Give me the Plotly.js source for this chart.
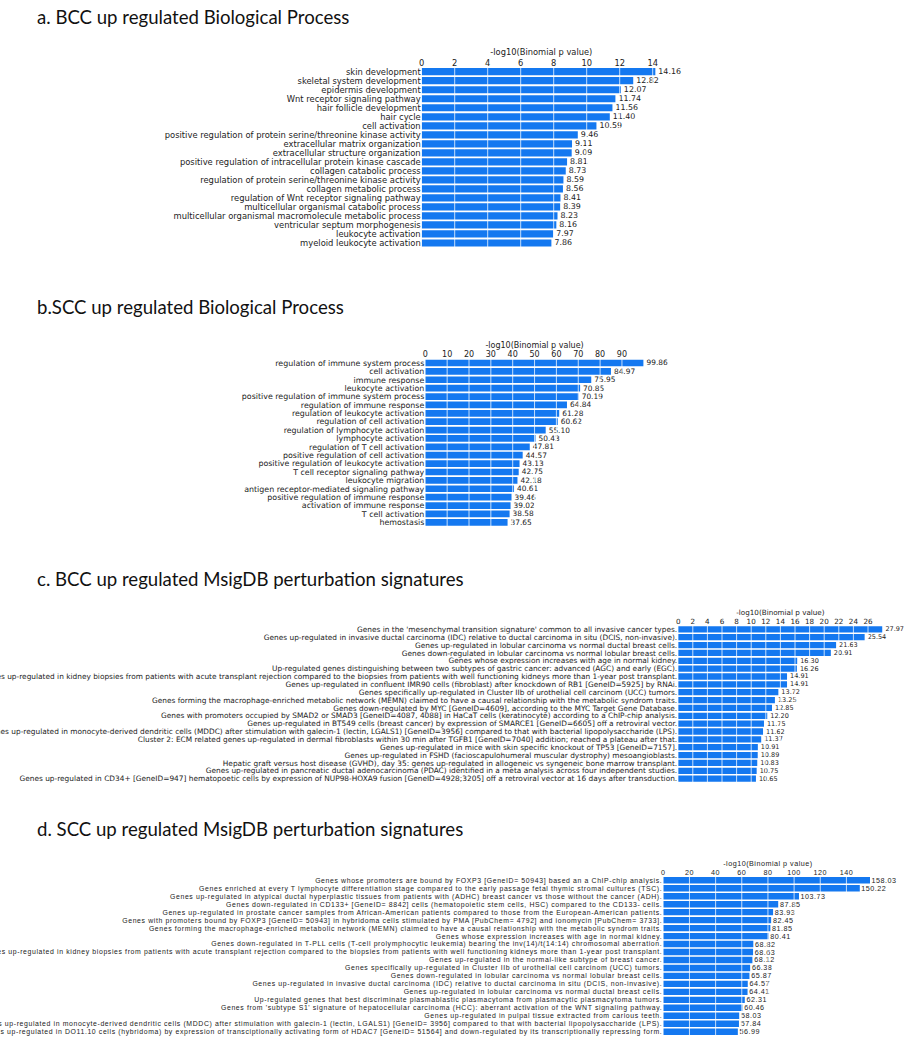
<!DOCTYPE html>
<html>
<head>
<meta charset="utf-8">
<script src="https://cdn.plot.ly/plotly-3.0.1.min.js"></script>
<style>
html,body{margin:0;padding:0;background:#fff;}
#chart{width:907px;height:1050px;}
.y4tick text {letter-spacing: 0.62px;}
.x4tick text {letter-spacing: 0.5px;}
.x4title {letter-spacing: 0.5px;}
.x4y4 .barlayer text {letter-spacing: 0.5px;}
</style>
</head>
<body>
<div id="chart"></div>
<script>
// ---------- DATA ----------
const titleA = "a. BCC up regulated Biological Process";
const titleB = "b.SCC up regulated Biological Process";
const titleC = "c. BCC up regulated MsigDB perturbation signatures";
const titleD = "d. SCC up regulated MsigDB perturbation signatures";
const axisTitle = "-log10(Binomial p value)";

const labelsA = [
  "skin development",
  "skeletal system development",
  "epidermis development",
  "Wnt receptor signaling pathway",
  "hair follicle development",
  "hair cycle",
  "cell activation",
  "positive regulation of protein serine/threonine kinase activity",
  "extracellular matrix organization",
  "extracellular structure organization",
  "positive regulation of intracellular protein kinase cascade",
  "collagen catabolic process",
  "regulation of protein serine/threonine kinase activity",
  "collagen metabolic process",
  "regulation of Wnt receptor signaling pathway",
  "multicellular organismal catabolic process",
  "multicellular organismal macromolecule metabolic process",
  "ventricular septum morphogenesis",
  "leukocyte activation",
  "myeloid leukocyte activation"
];
const valuesA = [14.16, 12.82, 12.07, 11.74, 11.56, 11.40, 10.59, 9.46, 9.11, 9.09,
                 8.81, 8.73, 8.59, 8.56, 8.41, 8.39, 8.23, 8.16, 7.97, 7.86];
const ticksA = [0, 2, 4, 6, 8, 10, 12, 14];

const labelsB = [
  "regulation of immune system process",
  "cell activation",
  "immune response",
  "leukocyte activation",
  "positive regulation of immune system process",
  "regulation of immune response",
  "regulation of leukocyte activation",
  "regulation of cell activation",
  "regulation of lymphocyte activation",
  "lymphocyte activation",
  "regulation of T cell activation",
  "positive regulation of cell activation",
  "positive regulation of leukocyte activation",
  "T cell receptor signaling pathway",
  "leukocyte migration",
  "antigen receptor-mediated signaling pathway",
  "positive regulation of immune response",
  "activation of immune response",
  "T cell activation",
  "hemostasis"
];
const valuesB = [99.86, 84.97, 75.95, 70.85, 70.19, 64.84, 61.28, 60.62, 55.10, 50.43,
                 47.81, 44.57, 43.13, 42.75, 42.18, 40.61, 39.46, 39.02, 38.58, 37.65];
const ticksB = [0, 10, 20, 30, 40, 50, 60, 70, 80, 90];

const labelsC = [
  "Genes in the 'mesenchymal transition signature' common to all invasive cancer types.",
  "Genes up-regulated in invasive ductal carcinoma (IDC) relative to ductal carcinoma in situ (DCIS, non-invasive).",
  "Genes up-regulated in lobular carcinoma vs normal ductal breast cells.",
  "Genes down-regulated in lobular carcinoma vs normal lobular breast cells.",
  "Genes whose expression increases with age in normal kidney.",
  "Up-regulated genes distinguishing between two subtypes of gastric cancer: advanced (AGC) and early (EGC).",
  "Genes up-regulated in kidney biopsies from patients with acute transplant rejection compared to the biopsies from patients with well functioning kidneys more than 1-year post transplant.",
  "Genes up-regulated in confluent IMR90 cells (fibroblast) after knockdown of RB1 [GeneID=5925] by RNAi.",
  "Genes specifically up-regulated in Cluster IIb of urothelial cell carcinom (UCC) tumors.",
  "Genes forming the macrophage-enriched metabolic network (MEMN) claimed to have a causal relationship with the metabolic syndrom traits.",
  "Genes down-regulated by MYC [GeneID=4609], according to the MYC Target Gene Database.",
  "Genes with promoters occupied by SMAD2 or SMAD3 [GeneID=4087, 4088] in HaCaT cells (keratinocyte) according to a ChIP-chip analysis.",
  "Genes up-regulated in BT549 cells (breast cancer) by expression of SMARCE1 [GeneID=6605] off a retroviral vector.",
  "Genes up-regulated in monocyte-derived dendritic cells (MDDC) after stimulation with galecin-1 (lectin, LGALS1) [GeneID=3956] compared to that with bacterial lipopolysaccharide (LPS).",
  "Cluster 2: ECM related genes up-regulated in dermal fibroblasts within 30 min after TGFB1 [GeneID=7040] addition; reached a plateau after that.",
  "Genes up-regulated in mice with skin specific knockout of TP53 [GeneID=7157].",
  "Genes up-regulated in FSHD (facioscapulohumeral muscular dystrophy) mesoangioblasts.",
  "Hepatic graft versus host disease (GVHD), day 35: genes up-regulated in allogeneic vs syngeneic bone marrow transplant.",
  "Genes up-regulated in pancreatic ductal adenocarcinoma (PDAC) identified in a meta analysis across four independent studies.",
  "Genes up-regulated in CD34+ [GeneID=947] hematopoetic cells by expression of NUP98-HOXA9 fusion [GeneID=4928;3205] off a retroviral vector at 16 days after transduction."
];
const valuesC = [27.97, 25.54, 21.63, 20.91, 16.30, 16.26, 14.91, 14.91, 13.72, 13.25,
                 12.85, 12.20, 11.75, 11.62, 11.37, 10.91, 10.89, 10.83, 10.75, 10.65];
const ticksC = [0, 2, 4, 6, 8, 10, 12, 14, 16, 18, 20, 22, 24, 26];

const labelsD = [
  "Genes whose promoters are bound by FOXP3 [GeneID= 50943] based an a ChIP-chip analysis.",
  "Genes enriched at every T lymphocyte differentiation stage compared to the early passage fetal thymic stromal cultures (TSC).",
  "Genes up-regulated in atypical ductal hyperplastic tissues from patients with (ADHC) breast cancer vs those without the cancer (ADH).",
  "Genes down-regulated in CD133+ [GeneID= 8842] cells (hematopoietic stem cells, HSC) compared to the CD133- cells.",
  "Genes up-regulated in prostate cancer samples from African-American patients compared to those from the European-American patients.",
  "Genes with promoters bound by FOXP3 [GeneID= 50943] in hybridoma cells stimulated by PMA [PubChem= 4792] and ionomycin [PubChem= 3733].",
  "Genes forming the macrophage-enriched metabolic network (MEMN) claimed to have a causal relationship with the metabolic syndrom traits.",
  "Genes whose expression increases with age in normal kidney.",
  "Genes down-regulated in T-PLL cells (T-cell prolymphocytic leukemia) bearing the inv(14)/t(14:14) chromosomal aberration.",
  "Genes up-regulated in kidney biopsies from patients with acute transplant rejection compared to the biopsies from patients with well functioning kidneys more than 1-year post transplant.",
  "Genes up-regulated in the normal-like subtype of breast cancer.",
  "Genes specifically up-regulated in Cluster IIb of urothelial cell carcinom (UCC) tumors.",
  "Genes down-regulated in lobular carcinoma vs normal lobular breast cells.",
  "Genes up-regulated in invasive ductal carcinoma (IDC) relative to ductal carcinoma in situ (DCIS, non-invasive).",
  "Genes up-regulated in lobular carcinoma vs normal ductal breast cells.",
  "Up-regulated genes that best discriminate plasmablastic plasmacytoma from plasmacytic plasmacytoma tumors.",
  "Genes from 'subtype S1' signature of hepatocellular carcinoma (HCC): aberrant activation of the WNT signaling pathway.",
  "Genes up-regulated in pulpal tissue extracted from carious teeth.",
  "Genes up-regulated in monocyte-derived dendritic cells (MDDC) after stimulation with galecin-1 (lectin, LGALS1) [GeneID= 3956] compared to that with bacterial lipopolysaccharide (LPS).",
  "Genes up-regulated in DO11.10 cells (hybridoma) by expression of transciptionally activating form of HDAC7 [GeneID= 51564] and down-regulated by its transcriptionally repressing form."
];
const valuesD = [158.03, 150.22, 103.73, 87.85, 83.93, 82.45, 81.85, 80.41, 68.82, 68.63,
                 68.12, 66.38, 65.87, 64.57, 64.41, 62.31, 60.46, 58.03, 57.84, 56.99];
const ticksD = [0, 20, 40, 60, 80, 100, 120, 140];

// ---------- LAYOUT / STYLE ----------
const W = 907, H = 1050;
const BAR = "#1478f0";
const panels = [
  {title: titleA, titleY: 17, labels: labelsA, values: valuesA, ticks: ticksA,
   x0: 421.7, xmax: 14.5, pxPerUnit: 16.5, top: 67.2, bottom: 247.5,
   font: "DejaVu Sans", fs: 8.4, tfs: 8.3, vfs: 7.9},
  {title: titleB, titleY: 306.5, labels: labelsB, values: valuesB, ticks: ticksB,
   x0: 425.3, xmax: 100, pxPerUnit: 2.185, top: 358.8, bottom: 526.5,
   font: "DejaVu Sans", fs: 7.9, tfs: 8.0, vfs: 7.4},
  {title: titleC, titleY: 578.5, labels: labelsC, values: valuesC, ticks: ticksC,
   x0: 678.2, xmax: 28, pxPerUnit: 7.3, top: 625.4, bottom: 782.6,
   font: "DejaVu Sans", fs: 7.4, tfs: 7.2, vfs: 6.5},
  {title: titleD, titleY: 828.5, labels: labelsD, values: valuesD, ticks: ticksD,
   x0: 663.3, xmax: 160, pxPerUnit: 1.308, top: 876.3, bottom: 1035.7,
   font: "Liberation Sans", fs: 6.9, tfs: 7.2, vfs: 7.2}
];

const data = [];
const layout = {
  width: W, height: H,
  margin: {l: 0, r: 0, t: 0, b: 0},
  paper_bgcolor: "#fff", plot_bgcolor: "#fff",
  showlegend: false,
  bargap: 0.2,
  annotations: [],
  shapes: []
};

panels.forEach((p, i) => {
  const n = i + 1;
  const xs = n === 1 ? "x" : "x" + n;
  const ys = n === 1 ? "y" : "y" + n;
  const xk = n === 1 ? "xaxis" : "xaxis" + n;
  const yk = n === 1 ? "yaxis" : "yaxis" + n;
  data.push({
    type: "bar", orientation: "h",
    x: p.values, y: p.labels,
    xaxis: xs, yaxis: ys,
    marker: {color: BAR, line: {width: 0}},
    text: p.values.map(v => v.toFixed(2)),
    textposition: "outside",
    constraintext: "none",
    cliponaxis: false,
    outsidetextfont: {family: p.font, size: p.vfs, color: "#222"},
    hoverinfo: "x+y"
  });
  const x1 = p.x0 + p.xmax * p.pxPerUnit;
  layout[xk] = {
    domain: [p.x0 / W, x1 / W],
    range: [0, p.xmax],
    side: "top",
    anchor: ys,
    tickmode: "array",
    tickvals: p.ticks,
    ticktext: p.ticks.map(String),
    ticks: "", showgrid: false, zeroline: false, showline: false,
    tickfont: {family: p.font, size: p.tfs, color: "#222"},
    ticklabelstandoff: -1,
    title: {text: axisTitle, font: {family: p.font, size: p.tfs, color: "#222"}, standoff: 0},
    fixedrange: true
  };
  layout[yk] = {
    domain: [1 - p.bottom / H, 1 - p.top / H],
    anchor: xs,
    type: "category",
    range: [p.labels.length - 0.5, -0.5],
    tickmode: "array",
    tickvals: p.labels,
    ticktext: p.labels,
    ticks: "", showgrid: false, zeroline: false, showline: false,
    tickfont: {family: p.font, size: p.fs, color: "#222"},
    automargin: false,
    fixedrange: true
  };
  layout.annotations.push({
    text: p.title, xref: "paper", yref: "paper",
    x: 35 / W, y: 1 - p.titleY / H, xanchor: "left", yanchor: "middle",
    showarrow: false,
    font: {family: "Lato", size: 18.6, color: "#111"}
  });
  p.ticks.filter(t => t > 0).forEach(t => {
    layout.shapes.push({
      type: "line", xref: xs, yref: ys + " domain",
      x0: t, x1: t, y0: 0, y1: 1,
      line: {color: "rgba(255,255,255,0.75)", width: 1},
      layer: "above"
    });
  });
});

Plotly.newPlot("chart", data, layout, {displayModeBar: false, staticPlot: true});
</script>
</body>
</html>
